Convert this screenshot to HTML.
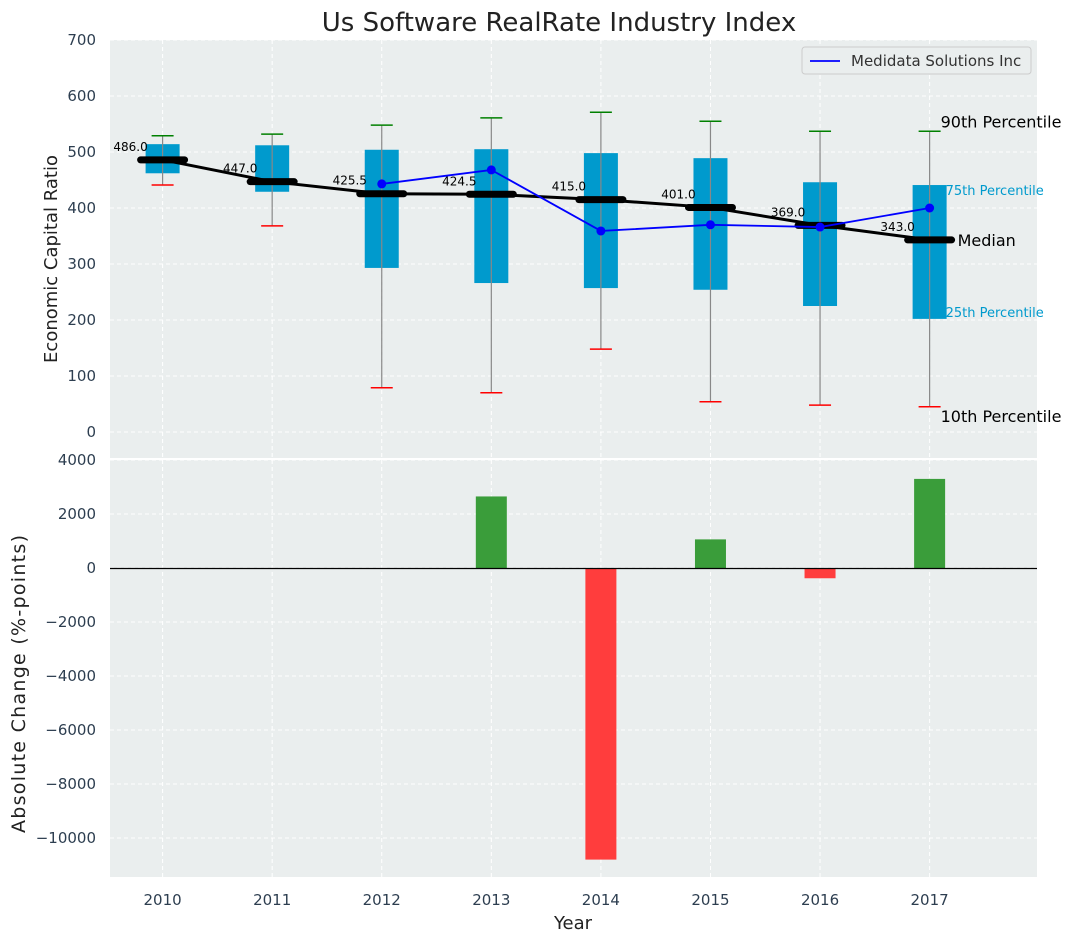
<!DOCTYPE html>
<html><head><meta charset="utf-8"><style>
body{margin:0;background:#fff;font-family:"Liberation Sans","DejaVu Sans",sans-serif}
svg text{font-family:"DejaVu Sans","Liberation Sans",sans-serif}
</style></head><body>
<svg id="c" width="1076" height="942" xmlns="http://www.w3.org/2000/svg"></svg>
<script>
const years=[2010,2011,2012,2013,2014,2015,2016,2017];
const p90=[529,532,548,561,571,555,537,537];
const p10=[441,368,79,70,148,54,48,45];
const q1=[462,429,293,266,257,254,225,202];
const q3=[514,512,504,505,498,489,446,441];
const medians=[486.0,447.0,425.5,424.5,415.0,401.0,369.0,343.0];
const companyYears=[2012,2013,2014,2015,2016,2017];
const companyValues=[443,468,359,370,366,400];
const changeYears=[2013,2014,2015,2016,2017];
const changeValues=[2650,-10800,1060,-380,3300];
const topTicks=[0,100,200,300,400,500,600,700];
const botTicks=[4000,2000,0,-2000,-4000,-6000,-8000,-10000];

const svg=document.getElementById('c');
const NS='http://www.w3.org/2000/svg';
function el(t,a,txt){const e=document.createElementNS(NS,t);for(const k in a)e.setAttribute(k,a[k]);if(txt!==undefined)e.textContent=txt;svg.appendChild(e);return e;}
const X0=110,X1=1037;
const x=v=>X0+(v-2009.52)/(2017.98-2009.52)*(X1-X0);
const yT=v=>432-v*0.56;
const yB=v=>568-v*0.027;

let e;
e=el('rect',{x:X0,y:40,width:X1-X0,height:418,fill:'#eaeeee'});

e=el('rect',{x:X0,y:460,width:X1-X0,height:417,fill:'#eaeeee'});

years.forEach(v=>{
 el('line',{x1:x(v),x2:x(v),y1:40,y2:458,stroke:'#fff','stroke-dasharray':'4,3'});
 el('line',{x1:x(v),x2:x(v),y1:460,y2:877,stroke:'#fff','stroke-dasharray':'4,3'});
 e=el('text',{x:x(v),y:905,'text-anchor':'middle','font-size':15,fill:'#2d3e50'},v);
 
});
topTicks.forEach(v=>{
 el('line',{x1:X0,x2:X1,y1:yT(v),y2:yT(v),stroke:'#fff','stroke-dasharray':'4,3'});
 e=el('text',{x:96,y:yT(v)+5,'text-anchor':'end','font-size':15,fill:'#2d3e50'},v);
 
});
botTicks.forEach(v=>{
 el('line',{x1:X0,x2:X1,y1:yB(v),y2:yB(v),stroke:'#fff','stroke-dasharray':'4,3'});
 e=el('text',{x:96,y:yB(v)+5,'text-anchor':'end','font-size':15,fill:'#2d3e50'},v<0?'\u2212'+(-v):v);
 
});
years.forEach((yr,i)=>{
 const cx=x(yr);
 e=el('rect',{x:cx-17,y:yT(q3[i]),width:34,height:yT(q1[i])-yT(q3[i]),fill:'#009acd'});
 
 e=el('line',{x1:cx,x2:cx,y1:yT(p90[i]),y2:yT(p10[i]),stroke:'#888','stroke-width':1.2});
 
 e=el('line',{x1:cx-11,x2:cx+11,y1:yT(p90[i]),y2:yT(p90[i]),stroke:'green','stroke-width':1.5});
 
 e=el('line',{x1:cx-11,x2:cx+11,y1:yT(p10[i]),y2:yT(p10[i]),stroke:'red','stroke-width':1.5});
 
});
e=el('polyline',{points:years.map((yr,i)=>x(yr)+','+yT(medians[i])).join(' '),fill:'none',stroke:'#000','stroke-width':3});

years.forEach((yr,i)=>{
 e=el('line',{x1:x(yr)-22,x2:x(yr)+22,y1:yT(medians[i]),y2:yT(medians[i]),stroke:'#000','stroke-width':7,'stroke-linecap':'round'});
 
 e=el('text',{x:x(yr)-32,y:yT(medians[i])-9,'text-anchor':'middle','font-size':12,fill:'#000'},medians[i].toFixed(1));
 
});
e=el('polyline',{points:companyYears.map((yr,i)=>x(yr)+','+yT(companyValues[i])).join(' '),fill:'none',stroke:'#0000ff','stroke-width':1.8});

companyYears.forEach((yr,i)=>{
 e=el('circle',{cx:x(yr),cy:yT(companyValues[i]),r:4.5,fill:'#0000ff'});
 
});
const L=years.length-1,lx=x(2017);
[['90th Percentile',p90[L],16,'#000',lx+11,-4],['75th Percentile',q3[L],13,'#009acd',lx+16,10],['Median',medians[L],16,'#000',lx+28,6],['25th Percentile',q1[L],13,'#009acd',lx+16,-2],['10th Percentile',p10[L],16,'#000',lx+11,15]].forEach(a=>{
 e=el('text',{x:a[4],y:yT(a[1])+a[5],'font-size':a[2],fill:a[3]},a[0]);
 
});
changeYears.forEach((yr,i)=>{
 const v=changeValues[i];
 e=el('rect',{x:x(yr)-15.5,y:Math.min(yB(v),yB(0)),width:31,height:Math.abs(yB(v)-yB(0)),fill:v>=0?'#3a9d3a':'#ff3d3d'});
 
});
el('line',{x1:X0,x2:X1,y1:Math.round(yB(0))+0.5,y2:Math.round(yB(0))+0.5,stroke:'#000','stroke-width':1.2});
e=el('rect',{x:802,y:47,width:229,height:27,rx:3,fill:'#eaeeee',stroke:'#ccc'});

el('line',{x1:810,x2:840,y1:61,y2:61,stroke:'#0000ff','stroke-width':1.8});
e=el('text',{x:851,y:66,'font-size':15,fill:'#333'},'Medidata Solutions Inc');

e=el('text',{x:559,y:31,'text-anchor':'middle','font-size':26,fill:'#222'},'Us Software RealRate Industry Index');

e=el('text',{x:573,y:929,'text-anchor':'middle','font-size':18,fill:'#222'},'Year');

e=el('text',{x:57,y:259,'text-anchor':'middle','font-size':18,fill:'#222',transform:'rotate(-90 57 259)'},'Economic Capital Ratio');

e=el('text',{x:25,y:684,'text-anchor':'middle','font-size':19,fill:'#222',textLength:298,transform:'rotate(-90 25 684)'},'Absolute Change (%-points)');

</script>
</body></html>
